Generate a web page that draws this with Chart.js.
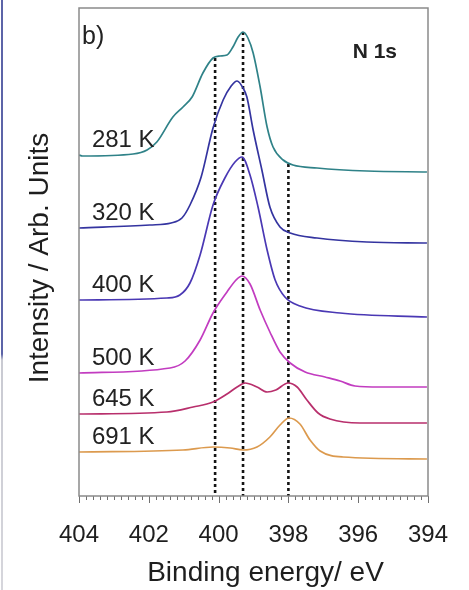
<!DOCTYPE html>
<html>
<head>
<meta charset="utf-8">
<script src="https://cdn.jsdelivr.net/npm/chart.js@4/dist/chart.umd.min.js"></script>
<style>
  html, body { margin: 0; padding: 0; background: #ffffff; }
  #wrap { position: relative; width: 469px; height: 590px; }
  #edge { position: absolute; left: 1px; top: 0; width: 2px; height: 590px;
          background: linear-gradient(to bottom, #5c64a8 0%, #5c64a8 60%, #c9cad2 61%, #d6d6dc 100%); }
  canvas { display: block; }
</style>
</head>
<body>
<div id="wrap">
  <canvas id="c" width="469" height="590"></canvas>
  <div id="edge"></div>
</div>
<script>
// N 1s spectra (binding energy in eV, intensity in arbitrary units, stacked)
const temperatures = ['281 K', '320 K', '400 K', '500 K', '645 K', '691 K'];

const energy281 = [404.0, 403.9, 402.45, 402.05, 401.77, 401.31, 401.02, 400.76, 400.45, 400.16, 399.96, 399.76, 399.59, 399.44, 399.30, 399.16, 399.01, 398.81, 398.61, 398.44, 398.15, 397.87, 397.18, 395.75, 394.03];
const intensity281 = [34.3, 34.2, 34.4, 34.8, 35.6, 38.1, 39.1, 40.1, 42.5, 44.0, 44.2, 44.3, 45.1, 46.1, 46.6, 46.0, 44.5, 41.1, 37.1, 35.1, 33.8, 33.3, 33.0, 32.7, 32.6];

const energy320 = [404.0, 401.97, 401.36, 401.05, 400.82, 400.50, 400.16, 399.87, 399.64, 399.47, 399.30, 399.19, 399.01, 398.76, 398.53, 398.24, 397.95, 397.18, 395.75, 394.03];
const intensity320 = [27.0, 27.3, 27.5, 28.0, 29.3, 32.1, 37.0, 39.8, 41.2, 41.7, 41.0, 40.1, 36.8, 32.8, 29.1, 27.1, 26.5, 26.0, 25.6, 25.5];

const energy400 = [404.0, 401.48, 401.11, 400.82, 400.53, 400.16, 399.82, 399.53, 399.33, 399.10, 398.87, 398.61, 398.38, 398.10, 397.67, 396.52, 394.03];
const intensity400 = [19.8, 20.0, 20.3, 21.5, 24.3, 29.3, 32.0, 33.6, 34.1, 32.3, 29.1, 24.8, 21.8, 20.1, 19.2, 18.5, 18.1];

const energy500 = [404.0, 401.39, 400.96, 400.53, 400.16, 399.76, 399.50, 399.33, 399.10, 398.81, 398.53, 398.24, 397.95, 397.52, 396.95, 396.52, 396.09, 395.38, 394.03];
const intensity500 = [12.5, 13.0, 13.7, 15.8, 18.5, 20.6, 21.8, 22.2, 21.4, 18.8, 16.6, 14.6, 13.5, 12.6, 12.1, 11.7, 11.2, 11.1, 11.1];

const energy645 = [404.0, 401.48, 400.73, 400.16, 399.76, 399.47, 399.24, 398.90, 398.61, 398.36, 398.01, 397.75, 397.47, 397.15, 396.81, 395.95, 394.03];
const intensity645 = [8.4, 8.6, 9.1, 9.6, 10.4, 11.1, 11.5, 11.1, 10.6, 10.8, 11.5, 11.1, 9.8, 8.5, 7.9, 7.5, 7.5];

const energy691 = [404.0, 401.02, 400.16, 399.67, 399.30, 398.90, 398.53, 398.24, 397.98, 397.67, 397.38, 397.09, 396.44, 394.03];
const intensity691 = [4.6, 4.8, 5.1, 5.0, 4.8, 5.1, 6.1, 7.3, 8.0, 7.4, 5.8, 4.7, 4.1, 3.9];

// Reference binding energies marked by dotted lines, with the height each line reaches
const markerEnergy = [400.1, 399.3, 398.0];
const markerTop = [44.0, 46.6, 33.4];

// Axis range and tick labels
const xMin = 394, xMax = 404;
const xTickLabels = ['404', '402', '400', '398', '396', '394'];
const yMin = 0.2, yMax = 49.0;
const xTitle = 'Binding energy/ eV';
const yTitle = 'Intensity / Arb. Units';

const seriesEnergy = [energy281, energy320, energy400, energy500, energy645, energy691];
const seriesIntensity = [intensity281, intensity320, intensity400, intensity500, intensity645, intensity691];
const seriesColor = ['#2f8288', '#3434a0', '#4a38b4', '#c23cc0', '#b82f6c', '#dc9a4e'];

const FONT = "'Liberation Sans', Arial, Helvetica, sans-serif";

const datasets = [];
temperatures.forEach((t, i) => {
  datasets.push({
    label: t,
    data: seriesEnergy[i].map((e, k) => ({ x: e, y: seriesIntensity[i][k] })),
    showLine: true,
    borderColor: seriesColor[i],
    borderWidth: 1.7,
    pointRadius: 0,
    cubicInterpolationMode: 'monotone',
    fill: false
  });
});
markerEnergy.forEach((e, i) => {
  datasets.push({
    label: 'marker',
    data: [{ x: e, y: markerTop[i] }, { x: e, y: yMin }],
    showLine: true,
    borderColor: '#141414',
    borderWidth: 2.6,
    borderDash: [3, 3],
    borderCapStyle: 'butt',
    pointRadius: 0
  });
});

// Frame, tick marks, axis titles, curve labels and panel annotations
const decorations = {
  id: 'decorations',
  afterDraw(chart) {
    const { ctx, chartArea: a, scales: { x, y } } = chart;
    ctx.save();
    // tick marks hanging below the frame
    ctx.strokeStyle = '#707070';
    ctx.lineWidth = 1;
    for (let k = 0; k <= 50; k++) {
      const v = xMin + k * 0.2;
      const px = Math.round(x.getPixelForValue(v)) + 0.5;
      const major = k % 10 === 0;
      ctx.beginPath();
      ctx.moveTo(px, a.bottom);
      ctx.lineTo(px, a.bottom + (major ? 7 : 4));
      ctx.stroke();
    }
    // frame
    ctx.strokeStyle = '#8a8a8a';
    ctx.lineWidth = 1.5;
    ctx.strokeRect(a.left, a.top, a.right - a.left, a.bottom - a.top);
    // axis titles
    ctx.fillStyle = '#1e1e1e';
    ctx.font = '28px ' + FONT;
    ctx.textAlign = 'center';
    ctx.textBaseline = 'middle';
    ctx.fillText(xTitle, (a.left + a.right) / 2 + 12, a.bottom + 77);
    ctx.save();
    ctx.translate(40, (a.top + a.bottom) / 2 + 6);
    ctx.rotate(-Math.PI / 2);
    ctx.fillText(yTitle, 0, 0);
    ctx.restore();
    // temperature labels above each baseline
    ctx.fillStyle = '#222222';
    ctx.font = '24px ' + FONT;
    ctx.textAlign = 'left';
    temperatures.forEach((t, i) => {
      const px = x.getPixelForValue(403.63);
      const py = y.getPixelForValue(seriesIntensity[i][0]) - 15;
      ctx.fillText(t, px, py);
    });
    // panel letter and core level
    ctx.font = '25px ' + FONT;
    ctx.fillText('b)', a.left + 3, a.top + 29);
    ctx.font = 'bold 21px ' + FONT;
    ctx.textAlign = 'right';
    ctx.fillText('N 1s', a.right - 31, a.top + 44);
    ctx.restore();
  }
};

new Chart(document.getElementById('c'), {
  type: 'scatter',
  data: { datasets },
  options: {
    responsive: false,
    animation: false,
    layout: { padding: { top: 8, right: 41, bottom: 0, left: 0 } },
    plugins: { legend: { display: false }, tooltip: { enabled: false } },
    scales: {
      x: {
        type: 'linear',
        reverse: true,
        min: xMin,
        max: xMax,
        afterBuildTicks(scale) {
          scale.ticks = xTickLabels.map(l => ({ value: Number(l) }));
        },
        ticks: {
          padding: 17,
          color: '#1e1e1e',
          font: { family: FONT, size: 24 },
          maxRotation: 0,
          autoSkip: false,
          callback: (v) => String(v)
        },
        grid: { display: false },
        border: { display: false },
        afterFit(scale) { scale.height = 94; }
      },
      y: {
        type: 'linear',
        min: yMin,
        max: yMax,
        ticks: { display: false },
        grid: { display: false },
        border: { display: false },
        afterFit(scale) { scale.width = 79; }
      }
    }
  },
  plugins: [decorations]
});
</script>
</body>
</html>
